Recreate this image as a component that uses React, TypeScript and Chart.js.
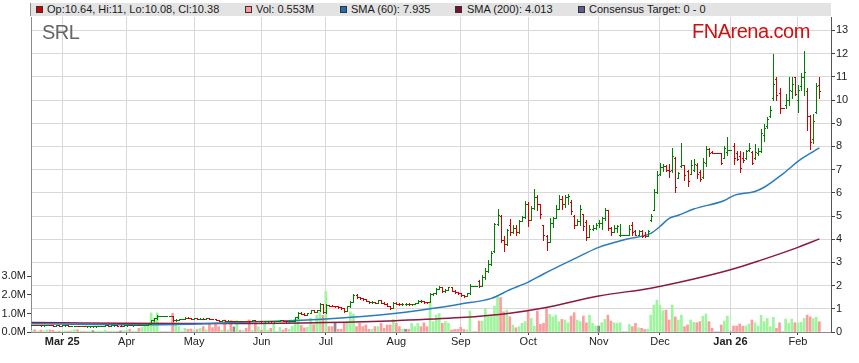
import React, { useEffect, useRef } from "react";
import { Chart, registerables } from "chart.js";

Chart.register(...registerables);

const FONT = "'Liberation Sans', Arial, Helvetica, sans-serif";

// weekday index of the first bar (0 = Mon 3 Mar 2025, one slot per weekday)
const firstBarIndex = -10;

const opens = [
  0.30, 0.31, 0.30, 0.31, 0.29, 0.30, 0.31, 0.29, 0.28, 0.30,
  0.28, 0.285, 0.29, 0.27, 0.275, 0.28, 0.26, 0.265, 0.24, 0.24,
  0.245, 0.245, 0.25, 0.255, 0.26, 0.285, 0.28, 0.29, 0.295, 0.28,
  0.28, 0.29, 0.30, 0.29, 0.30, 0.305, 0.29, 0.30, 0.31, 0.34,
  0.50, 0.60, 0.70, 0.70, 0.70, 0.70, 0.70, 0.50, 0.53, 0.56,
  0.56, 0.62, 0.60, 0.58, 0.59, 0.57, 0.58, 0.57, 0.60, 0.58,
  0.55, 0.51, 0.48, 0.50, 0.48, 0.49, 0.47, 0.47, 0.48, 0.47,
  0.48, 0.47, 0.46, 0.50, 0.47, 0.475, 0.46, 0.465, 0.47, 0.46,
  0.465, 0.465, 0.50, 0.48, 0.46, 0.465, 0.48, 0.64, 0.84, 0.78,
  0.74, 0.81, 0.93, 0.88, 0.93, 1.2, 0.85, 1.15, 1.13, 1.12,
  1.12, 1.06, 1.02, 0.92, 1.10, 1.30, 1.58, 1.50, 1.45, 1.42,
  1.34, 1.28, 1.30, 1.26, 1.37, 1.27, 1.22, 1.12, 1.03, 1.26,
  1.22, 1.20, 1.22, 1.22, 1.19, 1.21, 1.24, 1.35, 1.32, 1.29,
  1.28, 1.62, 1.66, 1.86, 1.95, 1.76, 1.80, 1.92, 1.78, 1.72,
  1.67, 1.58, 1.55, 1.66, 2.0, 2.0, 2.2, 2.0, 2.35, 2.65,
  2.95, 3.5, 4.65, 5.0, 3.98, 3.78, 4.6, 4.3, 4.5, 4.3,
  4.8, 4.95, 5.5, 4.85, 5.35, 5.8, 5.5, 4.6, 4.15, 3.9,
  4.7, 4.9, 5.3, 5.75, 5.5, 5.8, 5.6, 5.0, 4.6, 4.8,
  5.1, 4.75, 4.1, 4.45, 4.5, 4.7, 4.7, 4.9, 5.25, 4.5,
  4.3, 4.5, 4.18, 4.2, 4.2, 4.2, 4.6, 4.35, 4.2, 4.35,
  4.2, 4.15, 4.85, 5.25, 6.05, 6.8, 7.1, 7.15, 7.0, 7.0,
  7.5, 6.65, 7.15, 7.2, 6.95, 6.8, 7.0, 7.2, 6.9, 6.7,
  7.3, 7.9, 7.75, 7.7, 7.7, 7.7, 7.5, 7.75, 7.85, 8.0,
  7.7, 7.6, 7.5, 7.5, 7.85, 7.75, 7.5, 7.7, 7.8, 8.5,
  8.9, 9.3, 10.1, 10.9, 10.3, 9.65, 9.8, 10.0, 10.4, 11.0,
  10.0, 10.6, 11.0, 10.4, 9.3, 8.3, 9.5, 10.64,
];

const highs = [
  0.32, 0.32, 0.31, 0.31, 0.30, 0.31, 0.31, 0.30, 0.30, 0.30,
  0.29, 0.29, 0.29, 0.28, 0.28, 0.28, 0.27, 0.265, 0.25, 0.25,
  0.25, 0.25, 0.255, 0.265, 0.29, 0.29, 0.29, 0.30, 0.30, 0.29,
  0.30, 0.30, 0.31, 0.30, 0.31, 0.31, 0.31, 0.32, 0.36, 0.52,
  0.62, 0.72, 0.70, 0.70, 0.70, 0.70, 0.70, 0.55, 0.57, 0.56,
  0.64, 0.64, 0.61, 0.60, 0.60, 0.59, 0.59, 0.61, 0.61, 0.58,
  0.56, 0.52, 0.51, 0.51, 0.50, 0.49, 0.48, 0.49, 0.49, 0.48,
  0.48, 0.47, 0.51, 0.50, 0.48, 0.48, 0.47, 0.47, 0.47, 0.47,
  0.465, 0.51, 0.51, 0.49, 0.47, 0.49, 0.66, 0.86, 0.86, 0.80,
  0.83, 0.96, 0.95, 0.96, 1.24, 1.2, 1.22, 1.18, 1.16, 1.14,
  1.13, 1.07, 1.03, 1.12, 1.32, 1.62, 1.62, 1.52, 1.48, 1.43,
  1.35, 1.32, 1.31, 1.40, 1.37, 1.28, 1.23, 1.13, 1.28, 1.28,
  1.24, 1.24, 1.23, 1.23, 1.22, 1.26, 1.37, 1.37, 1.34, 1.31,
  1.68, 1.70, 1.90, 1.98, 1.96, 1.84, 1.95, 1.93, 1.80, 1.74,
  1.68, 1.60, 1.68, 2.08, 2.0, 2.0, 2.25, 2.45, 2.75, 3.1,
  3.5, 4.7, 5.3, 5.05, 4.15, 4.45, 4.89, 4.6, 4.6, 4.82,
  5.0, 5.63, 5.6, 5.42, 6.18, 5.9, 5.5, 4.6, 4.2, 4.9,
  4.96, 5.46, 5.9, 5.85, 5.9, 5.93, 5.68, 5.03, 4.89, 5.46,
  5.1, 4.82, 4.6, 4.6, 4.7, 4.83, 4.96, 5.36, 5.25, 4.53,
  4.6, 4.63, 4.67, 4.2, 4.2, 4.6, 4.75, 4.4, 4.4, 4.4,
  4.3, 4.4, 5.1, 6.18, 6.95, 7.3, 7.25, 7.2, 7.25, 7.95,
  7.55, 6.9, 8.15, 7.2, 7.0, 7.4, 7.45, 7.3, 7.0, 7.5,
  8.0, 7.95, 7.8, 7.7, 7.7, 7.7, 8.0, 8.4, 7.85, 8.15,
  7.8, 7.8, 7.75, 7.85, 8.15, 7.8, 8.1, 7.95, 8.75, 8.95,
  9.25, 9.75, 12.0, 11.0, 10.5, 9.65, 10.25, 11.0, 11.0, 11.0,
  10.65, 11.15, 12.1, 10.5, 9.35, 9.4, 10.75, 11.0,
];

const lows = [
  0.29, 0.30, 0.29, 0.28, 0.28, 0.29, 0.29, 0.28, 0.28, 0.28,
  0.27, 0.27, 0.27, 0.26, 0.26, 0.26, 0.25, 0.24, 0.23, 0.235,
  0.235, 0.235, 0.24, 0.25, 0.26, 0.27, 0.27, 0.28, 0.28, 0.27,
  0.28, 0.28, 0.29, 0.28, 0.29, 0.29, 0.29, 0.29, 0.30, 0.34,
  0.48, 0.58, 0.70, 0.70, 0.70, 0.70, 0.48, 0.48, 0.52, 0.56,
  0.56, 0.59, 0.57, 0.57, 0.56, 0.56, 0.56, 0.57, 0.57, 0.54,
  0.50, 0.47, 0.48, 0.47, 0.47, 0.46, 0.46, 0.46, 0.46, 0.46,
  0.46, 0.45, 0.46, 0.46, 0.46, 0.45, 0.45, 0.45, 0.45, 0.45,
  0.465, 0.46, 0.48, 0.45, 0.45, 0.46, 0.48, 0.62, 0.77, 0.73,
  0.73, 0.80, 0.86, 0.87, 0.92, 0.80, 0.82, 1.10, 1.10, 1.09,
  1.05, 1.00, 0.88, 0.92, 1.08, 1.28, 1.48, 1.42, 1.40, 1.32,
  1.26, 1.24, 1.24, 1.25, 1.25, 1.20, 1.10, 1.00, 1.03, 1.20,
  1.18, 1.18, 1.17, 1.17, 1.17, 1.19, 1.23, 1.30, 1.27, 1.26,
  1.28, 1.60, 1.64, 1.84, 1.72, 1.74, 1.79, 1.76, 1.70, 1.65,
  1.55, 1.52, 1.54, 1.65, 2.0, 2.0, 1.93, 1.98, 2.3, 2.6,
  2.9, 3.45, 4.6, 3.9, 3.5, 3.75, 4.18, 4.25, 4.2, 4.28,
  4.78, 4.9, 4.55, 4.83, 5.3, 5.28, 4.9, 3.96, 3.53, 3.9,
  4.53, 4.9, 5.3, 5.32, 5.4, 5.53, 5.1, 4.5, 4.6, 4.6,
  4.4, 3.96, 4.1, 4.4, 4.42, 4.53, 4.46, 4.83, 4.4, 4.17,
  4.3, 4.3, 4.15, 4.2, 4.2, 4.2, 4.17, 4.17, 4.2, 4.1,
  4.1, 4.15, 4.8, 5.25, 6.0, 6.75, 6.95, 6.95, 6.7, 6.9,
  6.05, 6.65, 7.1, 6.55, 6.3, 6.8, 6.95, 6.65, 6.5, 6.65,
  7.15, 7.6, 7.7, 7.7, 7.7, 7.25, 7.5, 7.65, 7.85, 7.25,
  7.4, 6.9, 7.35, 7.45, 7.8, 7.25, 7.45, 7.65, 7.75, 8.25,
  8.8, 9.25, 10.0, 10.0, 9.45, 9.65, 9.65, 9.8, 10.1, 10.2,
  9.5, 10.45, 10.2, 8.7, 7.9, 8.15, 9.45, 10.08,
];

const closes = [
  0.31, 0.30, 0.31, 0.29, 0.30, 0.31, 0.29, 0.28, 0.30, 0.28,
  0.285, 0.29, 0.27, 0.275, 0.28, 0.26, 0.265, 0.24, 0.245, 0.245,
  0.245, 0.25, 0.255, 0.26, 0.285, 0.28, 0.29, 0.295, 0.28, 0.28,
  0.29, 0.30, 0.29, 0.30, 0.305, 0.29, 0.30, 0.31, 0.34, 0.50,
  0.60, 0.70, 0.70, 0.70, 0.70, 0.70, 0.50, 0.53, 0.56, 0.56,
  0.62, 0.60, 0.58, 0.59, 0.57, 0.58, 0.57, 0.60, 0.58, 0.55,
  0.51, 0.48, 0.50, 0.48, 0.49, 0.47, 0.47, 0.48, 0.47, 0.48,
  0.47, 0.46, 0.50, 0.47, 0.475, 0.46, 0.465, 0.47, 0.46, 0.465,
  0.465, 0.50, 0.48, 0.46, 0.465, 0.48, 0.64, 0.84, 0.78, 0.74,
  0.81, 0.93, 0.88, 0.93, 1.2, 0.85, 1.15, 1.13, 1.12, 1.12,
  1.06, 1.02, 0.92, 1.10, 1.30, 1.58, 1.50, 1.45, 1.42, 1.34,
  1.28, 1.30, 1.26, 1.37, 1.27, 1.22, 1.12, 1.03, 1.26, 1.22,
  1.20, 1.22, 1.22, 1.19, 1.21, 1.24, 1.35, 1.32, 1.29, 1.28,
  1.62, 1.66, 1.86, 1.95, 1.76, 1.80, 1.92, 1.78, 1.72, 1.67,
  1.58, 1.55, 1.66, 2.0, 2.0, 2.0, 1.97, 2.35, 2.65, 2.95,
  3.4, 4.65, 5.05, 3.98, 3.78, 4.38, 4.3, 4.5, 4.3, 4.8,
  4.95, 5.5, 4.85, 5.35, 5.8, 5.5, 5.1, 4.2, 3.9, 4.7,
  4.9, 5.3, 5.75, 5.5, 5.8, 5.85, 5.2, 4.6, 4.8, 5.3,
  4.55, 4.1, 4.45, 4.5, 4.6, 4.7, 4.9, 5.25, 4.5, 4.3,
  4.5, 4.55, 4.2, 4.2, 4.2, 4.45, 4.3, 4.2, 4.35, 4.15,
  4.15, 4.35, 5.0, 6.05, 6.75, 7.1, 7.15, 6.98, 6.95, 7.6,
  6.25, 6.85, 7.2, 6.75, 6.5, 7.2, 7.25, 6.8, 6.6, 7.35,
  7.9, 7.7, 7.7, 7.7, 7.7, 7.3, 7.95, 7.85, 7.85, 7.5,
  7.45, 7.05, 7.4, 7.8, 7.95, 7.3, 7.75, 7.8, 8.6, 8.8,
  9.2, 9.55, 10.7, 10.2, 9.65, 9.65, 10.0, 10.45, 10.7, 10.25,
  10.45, 11.0, 11.2, 9.3, 8.2, 9.1, 10.6, 10.38,
];

// daily volume, millions of shares
const volumesM = [
  0.08, 0.12, 0.05, 0.10, 0.06, 0.11, 0.11, 0.09, 0.04, 0.05,
  0.03, 0.06, 0.04, 0.08, 0.12, 0.12, 0.05, 0.03, 0.04, 0.02,
  0.07, 0.03, 0.05, 0.04, 0.10, 0.03, 0.05, 0.04, 0.03, 0.06,
  0.07, 0.08, 0.14, 0.05, 0.04, 0.20, 0.25, 0.42, 0.30, 1.03,
  0.75, 1.03, 0, 0, 0, 0, 1.00, 0.47, 0.29, 0,
  0.20, 0.15, 0.16, 0.10, 0.13, 0.20, 0.29, 0.12, 0.41, 0.24,
  0.47, 0.29, 0.10, 0.65, 0.11, 0.62, 0.28, 0.62, 0.10, 0.08,
  0.20, 0.65, 0.10, 0.50, 0.28, 0.10, 0.50, 0.10, 0.20, 0.45,
  0, 0.25, 0.10, 0.20, 0.15, 0.30, 0.70, 0.85, 0.35, 0.22,
  0.25, 0.75, 0.40, 0.90, 1.05, 0.90, 2.20, 0.29, 0.29, 0.47,
  0.15, 0.15, 0.50, 0.56, 1.09, 0.97, 0.29, 0.47, 0.29, 0.38,
  0.15, 0.15, 0.29, 0.29, 0.47, 0.20, 0.38, 0.38, 0.68, 0.47,
  0.29, 0.15, 0.15, 0.15, 0.47, 0.29, 0.47, 0.29, 0.50, 0.29,
  1.65, 0.56, 0.91, 1.00, 0.47, 0.56, 0.47, 0.11, 0.14, 0.14,
  0.25, 0.14, 0.11, 1.13, 0, 0, 0.59, 0.59, 1.27, 0.86,
  0.86, 1.40, 1.94, 1.86, 1.09, 1.18, 0.82, 0.38, 0.23, 0.29,
  0.47, 0.56, 1.18, 0.73, 0.32, 1.13, 0.41, 0.47, 1.33, 0.95,
  0.82, 0.91, 0.56, 0.68, 0.65, 0.50, 0.86, 1.04, 0.65, 0.56,
  0.86, 0.50, 0.91, 0.47, 0.32, 0.32, 0.50, 0.68, 0.91, 0.59,
  0.50, 0.47, 0.50, 0, 0, 0.41, 0.29, 0.47, 0.23, 0.20,
  0.14, 0.16, 0.91, 1.45, 1.72, 1.45, 1.15, 1.18, 0.65, 1.45,
  0.82, 0.65, 0.91, 0.29, 0.38, 0.65, 0.52, 0.50, 0.56, 0.86,
  0.97, 0.56, 0.20, 0, 0, 0.38, 0.59, 0.86, 0, 0.32,
  0.32, 0.43, 0.32, 0.32, 0.43, 0.65, 0.50, 0.32, 0.91, 0.56,
  0.73, 0.29, 0.79, 0.20, 0.50, 0, 0.70, 0.47, 0.70, 0.50,
  0.50, 0.52, 0.73, 0.91, 0.82, 0.73, 0.80, 0.553,
];

const sma60Index = [-10, 0, 10, 20, 30, 40, 50, 65, 86, 109, 120, 130, 140, 146, 152, 157, 167, 175, 184, 192, 195, 198, 201, 206, 216, 219, 226, 229, 235, 241, 247];
const sma60Values = [0.36, 0.34, 0.32, 0.31, 0.31, 0.33, 0.38, 0.45, 0.56, 0.81, 1.0, 1.21, 1.45, 1.82, 2.15, 2.5, 3.15, 3.65, 4.0, 4.25, 4.55, 4.9, 5.03, 5.3, 5.67, 5.88, 6.06, 6.24, 6.81, 7.45, 7.935];

const sma200Index = [-10, 0, 20, 40, 60, 86, 109, 130, 146, 157, 175, 192, 201, 218, 228, 240, 247];
const sma200Values = [0.41, 0.40, 0.38, 0.37, 0.37, 0.41, 0.49, 0.62, 0.81, 1.03, 1.55, 1.89, 2.13, 2.68, 3.1, 3.65, 4.013];

const monthTickIndex = [0, 21, 43, 65, 86, 109, 130, 152, 175, 195, 218, 240];
const monthTickLabels = ["Mar 25", "Apr", "May", "Jun", "Jul", "Aug", "Sep", "Oct", "Nov", "Dec", "Jan 26", "Feb"];
const priceTicks = [0, 1, 2, 3, 4, 5, 6, 7, 8, 9, 10, 11, 12, 13];
const volumeTicksM = [0, 1, 2, 3];

const consensusLow = 0;
const consensusHigh = 0;

const UP = "#008000";
const DOWN = "#d00000";
const VOL_UP = "#9ef59e";
const VOL_DOWN = "#fb9d9d";
const VOL_FLAT = "#8c8c8c";
const SMA60_COLOR = "#2a7cbc";
const SMA200_COLOR = "#8a1a40";

function computeColors() {
  const price: string[] = [];
  const vol: string[] = [];
  let prev = UP;
  for (let k = 0; k < closes.length; k++) {
    const o = opens[k];
    const c = closes[k];
    const col = c > o ? UP : c < o ? DOWN : prev;
    prev = col;
    price.push(col);
    vol.push(c === o ? VOL_FLAT : col === UP ? VOL_UP : VOL_DOWN);
  }
  return { price, vol };
}

export default function App() {
  const ref = useRef<HTMLCanvasElement>(null);

  useEffect(() => {
    const canvas = ref.current;
    if (!canvas) return;
    const { price, vol } = computeColors();

    const ohlcPlugin = {
      id: "ohlcBars",
      afterDatasetsDraw(chart: any) {
        const { ctx, chartArea, scales } = chart;
        const xs = scales.x;
        const ys = scales.y;
        ctx.save();
        ctx.beginPath();
        ctx.rect(chartArea.left, chartArea.top, chartArea.right - chartArea.left, chartArea.bottom - chartArea.top);
        ctx.clip();
        for (let k = 0; k < closes.length; k++) {
          const px = Math.round(xs.getPixelForValue(firstBarIndex + k));
          const yh = Math.round(ys.getPixelForValue(highs[k]));
          const yl = Math.round(ys.getPixelForValue(lows[k]));
          const yo = Math.round(ys.getPixelForValue(opens[k]));
          const yc = Math.round(ys.getPixelForValue(closes[k]));
          ctx.fillStyle = price[k];
          ctx.fillRect(px, yh, 1, Math.max(1, yl - yh + 1));
          ctx.fillRect(px - 1, yo, 1, 1);
          ctx.fillRect(px + 1, yc, 1, 1);
        }
        ctx.restore();
      },
    };

    const tickFont = { family: FONT, size: 11 };

    const chart = new Chart(canvas, {
      type: "line",
      data: {
        datasets: [
          {
            type: "line",
            label: "SMA (60)",
            data: sma60Index.map((x, j) => ({ x, y: sma60Values[j] })),
            xAxisID: "x",
            yAxisID: "y",
            borderColor: SMA60_COLOR,
            borderWidth: 1.5,
            pointRadius: 0,
            cubicInterpolationMode: "monotone",
            order: 1,
          },
          {
            type: "line",
            label: "SMA (200)",
            data: sma200Index.map((x, j) => ({ x, y: sma200Values[j] })),
            xAxisID: "x",
            yAxisID: "y",
            borderColor: SMA200_COLOR,
            borderWidth: 1.5,
            pointRadius: 0,
            cubicInterpolationMode: "monotone",
            order: 2,
          },
          {
            type: "bar",
            label: "Vol",
            data: volumesM.map((v, k) => ({ x: firstBarIndex + k, y: v * 1e6 })),
            xAxisID: "x",
            yAxisID: "yv",
            backgroundColor: vol,
            borderWidth: 0,
            barThickness: 2,
            order: 3,
          } as any,
        ],
      },
      options: {
        responsive: false,
        maintainAspectRatio: false,
        animation: false,
        devicePixelRatio: 1,
        events: [],
        layout: { padding: { top: 17, left: 0, right: 0, bottom: 0 } },
        plugins: { legend: { display: false }, tooltip: { enabled: false }, title: { display: false } },
        scales: {
          x: {
            type: "linear",
            position: "bottom",
            min: -10.2,
            max: 250.8,
            offset: false,
            afterBuildTicks: (s: any) => {
              s.ticks = monthTickIndex.map((v) => ({ value: v }));
            },
            afterFit: (s: any) => {
              s.height = 31;
            },
            ticks: {
              autoSkip: false,
              maxRotation: 0,
              padding: 0,
              color: "#222",
              font: (c: any) => ({
                family: FONT,
                size: 11,
                weight: monthTickLabels[c.index] && monthTickLabels[c.index].includes(" ") ? "bold" : "normal",
              }),
              callback: (_v: any, i: number) => monthTickLabels[i],
            },
            grid: { color: "#d8d8d8", tickLength: 3, tickColor: "#444", offset: false },
            border: { color: "#8a8a8a" },
          },
          yv: {
            type: "linear",
            position: "left",
            min: 0,
            max: 17e6,
            afterBuildTicks: (s: any) => {
              s.ticks = volumeTicksM.map((v) => ({ value: v * 1e6 }));
            },
            afterFit: (s: any) => {
              s.width = 31;
            },
            ticks: {
              padding: 1,
              color: "#222",
              font: tickFont,
              callback: (v: any) => (Number(v) / 1e6).toFixed(1) + "M",
            },
            grid: { drawOnChartArea: false, tickLength: 4, tickColor: "#444" },
            border: { color: "#8a8a8a" },
          },
          y: {
            type: "linear",
            position: "right",
            min: 0,
            max: 13.58,
            afterBuildTicks: (s: any) => {
              s.ticks = priceTicks.map((v) => ({ value: v }));
            },
            afterFit: (s: any) => {
              s.width = 28;
            },
            ticks: {
              padding: 1,
              color: "#222",
              font: tickFont,
              callback: (v: any) => String(v),
            },
            grid: { color: "#d8d8d8", tickLength: 4, tickColor: "#444" },
            border: { color: "#555" },
          },
        },
      } as any,
      plugins: [ohlcPlugin],
    });

    return () => chart.destroy();
  }, []);

  const last = closes.length - 1;
  const legendItems = [
    { color: "#cc0000", sq: 36, tx: 47, text: `Op:${opens[last]}, Hi:${highs[last]}, Lo:${lows[last]}, Cl:${closes[last]}` },
    { color: "#ff9999", sq: 245, tx: 256, text: `Vol: ${volumesM[last]}M` },
    { color: "#1f6fb0", sq: 340, tx: 351, text: `SMA (60): ${sma60Values[sma60Values.length - 1]}` },
    { color: "#7a1030", sq: 455, tx: 467, text: `SMA (200): ${sma200Values[sma200Values.length - 1]}` },
    { color: "#5e5e8e", sq: 578, tx: 589, text: `Consensus Target: ${consensusLow} - ${consensusHigh}` },
  ];

  return (
    <div style={{ position: "absolute", left: 0, top: 0, width: 859, height: 363, background: "#fff", fontFamily: FONT, overflow: "hidden" }}>
      <canvas ref={ref} width={859} height={363} style={{ position: "absolute", left: 0, top: 0, width: 859, height: 363 }} />
      <div style={{ position: "absolute", left: 30, top: 3, width: 801, height: 13, background: "#e3e3e3", borderLeft: "1px solid #8a8a8a", boxSizing: "border-box" }} />
      {legendItems.map((it) => (
        <React.Fragment key={it.text}>
          <div style={{ position: "absolute", left: it.sq, top: 6, width: 5, height: 5, background: it.color, border: "1px solid #333" }} />
          <div style={{ position: "absolute", left: it.tx, top: 3, fontSize: 11, lineHeight: "13px", color: "#1a1a1a", whiteSpace: "nowrap" }}>{it.text}</div>
        </React.Fragment>
      ))}
      <div style={{ position: "absolute", left: 42, top: 22, fontSize: 20, lineHeight: "20px", letterSpacing: "-0.5px", color: "#666", whiteSpace: "nowrap" }}>SRL</div>
      <div style={{ position: "absolute", left: 692, top: 21, fontSize: 20, lineHeight: "20px", letterSpacing: "-0.5px", color: "#cc1111", whiteSpace: "nowrap" }}>FNArena.com</div>
    </div>
  );
}
